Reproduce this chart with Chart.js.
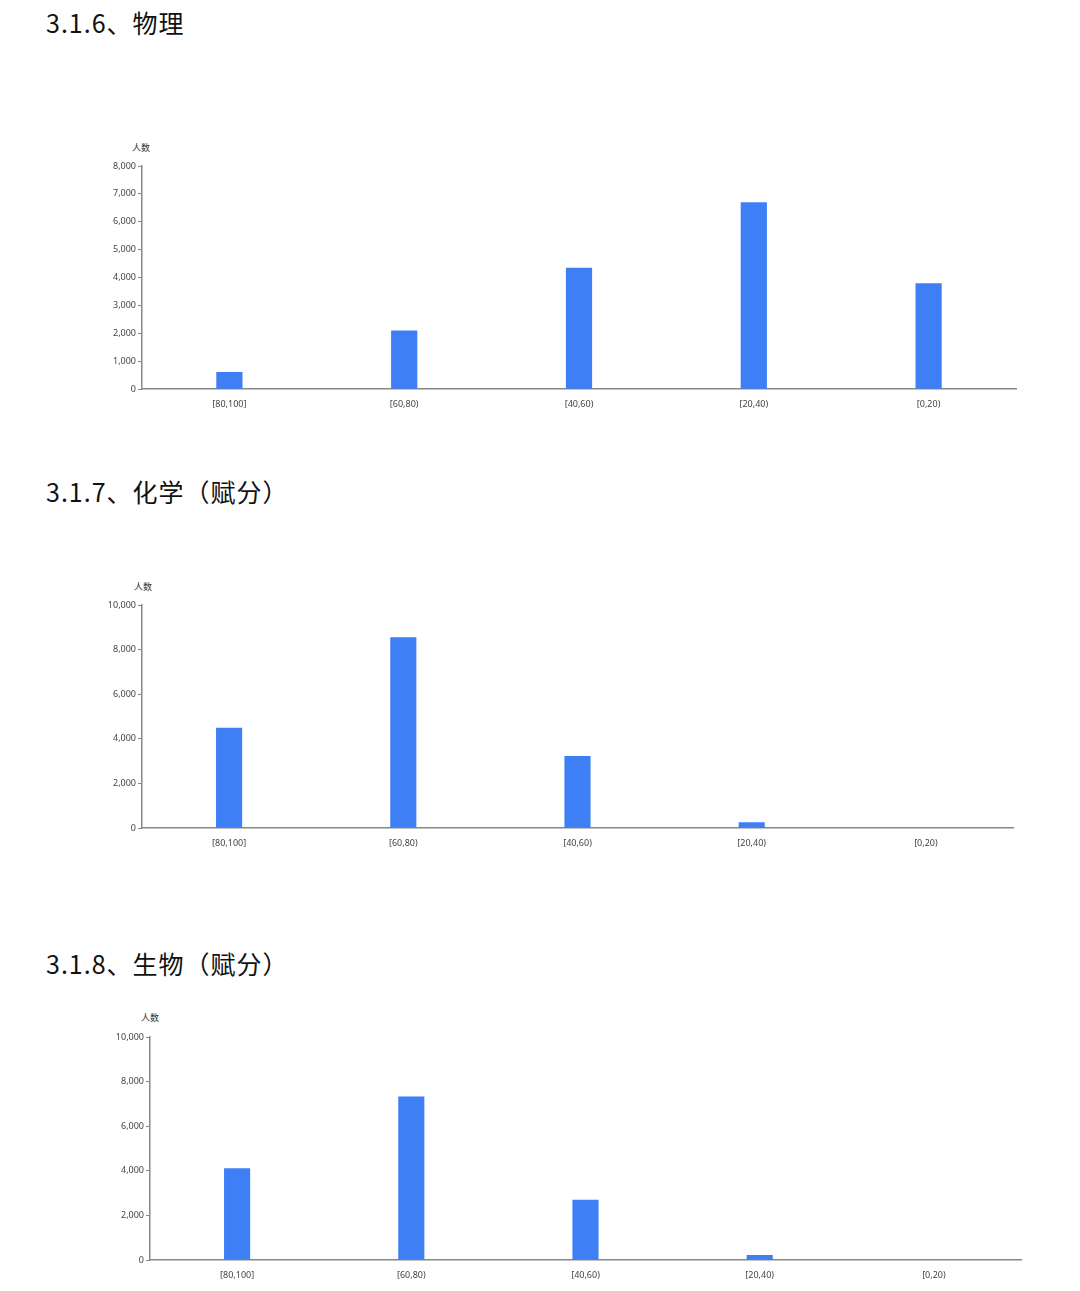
<!DOCTYPE html>
<html><head><meta charset="utf-8">
<script src="https://cdn.jsdelivr.net/npm/chart.js@4/dist/chart.umd.min.js"></script>
<style>
body{margin:0;background:#fff;width:1080px;height:1291px;position:relative;overflow:hidden;font-family:"Noto Sans CJK SC",sans-serif}
.h{position:absolute;left:46px;font-size:25px;color:#111;letter-spacing:1px}
.u{position:absolute;font-size:9px;color:#333}
.c{position:absolute}
</style></head><body>
<div class="h" style="top:4px">3.1.6、物理</div>
<div class="h" style="top:473px">3.1.7、化学（赋分）</div>
<div class="h" style="top:945px">3.1.8、生物（赋分）</div>
<div class="u" style="left:132px;top:141px">人数</div>
<div class="u" style="left:134px;top:580px">人数</div>
<div class="u" style="left:141px;top:1011px">人数</div>
<div class="c" style="left:90px;top:150px;width:940px;height:270px"><canvas id="c1"></canvas></div>
<div class="c" style="left:90px;top:589px;width:937px;height:270px"><canvas id="c2"></canvas></div>
<div class="c" style="left:90px;top:1021px;width:945px;height:270px"><canvas id="c3"></canvas></div>
<script>
const categories=["[80,100]","[60,80)","[40,60)","[20,40)","[0,20)"];
const physics=[620,2100,4350,6700,3800];
const chemistry=[4500,8560,3240,270,0];
const biology=[4120,7330,2710,230,0];
function make(id,data,max,step,yw){
  new Chart(document.getElementById(id),{type:'bar',
    data:{labels:categories,datasets:[{data:data,backgroundColor:'#3f7ff5',barPercentage:0.15,categoryPercentage:1}]},
    options:{responsive:true,maintainAspectRatio:false,animation:false,
      layout:{padding:{top:16,right:14,bottom:0,left:0}},
      plugins:{legend:{display:false},tooltip:{enabled:false}},
      scales:{
        x:{grid:{display:false,drawTicks:false},border:{color:'#888',width:1.5},
           ticks:{color:'#444',font:{size:9,family:'Noto Sans'},padding:10}},
        y:{min:0,max:max,afterFit:s=>{s.width=yw;},
           grid:{drawOnChartArea:false,tickLength:4,color:'#888'},border:{color:'#888',width:1.5},
           ticks:{stepSize:step,color:'#444',font:{size:9,family:'Noto Sans'},padding:2,
             callback:v=>v.toLocaleString('en-US')}}
      }}});
}
make('c1',physics,8000,1000,52);
make('c2',chemistry,10000,2000,52);
make('c3',biology,10000,2000,60);
</script>
</body></html>
